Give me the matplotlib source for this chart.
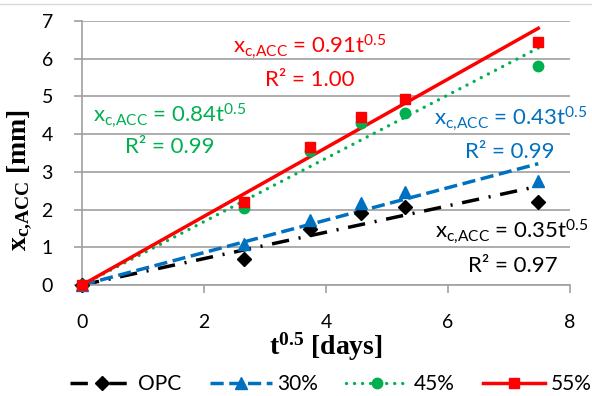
import numpy as np
import matplotlib
matplotlib.use("Agg")
import matplotlib.pyplot as plt
from matplotlib.lines import Line2D

plt.rcParams['font.family'] = ['Lato', 'DejaVu Sans']
plt.rcParams['mathtext.default'] = 'regular'

# ---- data ----
t05 = [0, 2.65, 3.74, 4.58, 5.29, 7.48]
series_names = ["OPC", "30%", "45%", "55%"]
opc = [0, 0.70, 1.48, 1.90, 2.08, 2.20]
s30 = [0, 1.08, 1.72, 2.17, 2.47, 2.77]
s45 = [0, 2.05, 3.55, 4.29, 4.55, 5.80]
s55 = [0, 2.20, 3.67, 4.46, 4.93, 6.43]
slopes = [0.35, 0.43, 0.84, 0.91]
r2 = ["0.97", "0.99", "0.99", "1.00"]
xticks = [0, 2, 4, 6, 8]
yticks = [0, 1, 2, 3, 4, 5, 6, 7]

colors = ["black", "#0070C0", "#00B050", "#FF0000"]
markers = ["D", "^", "o", "s"]
msizes = [7, 8.5, 7.5, 7.5]
dashes = [(5.0, 2.8, 0.6, 2.8), (3.8, 1.6), (0.01, 2.4), None]
lws = [2.5, 2.5, 2.4, 2.5]

fig = plt.figure(figsize=(5.92, 3.96), dpi=100)
ax = fig.add_axes([82/592, 1-285/396, (570-82)/592, (285-21)/396])

xfit = np.array([0, max(t05)])
handles = []
for ys, c, m, ms, d, lw, k, name in zip([opc, s30, s45, s55], colors, markers,
                                         msizes, dashes, lws, slopes, series_names):
    ax.plot(t05, ys, linestyle='none', marker=m, ms=ms, color=c, zorder=3, clip_on=False)
    ln, = ax.plot(xfit, k * xfit, color=c, lw=lw, zorder=2,
                  dash_capstyle='round' if name == "45%" else 'butt')
    if d is not None:
        ln.set_dashes(d)
    h = Line2D([], [], color=c, lw=lw, marker=m, ms=ms)
    if d is not None:
        h.set_dashes(d)
        if name == "45%":
            h.set_dash_capstyle('round')
    handles.append(h)

ax.set_xlim(0, 8)
ax.set_ylim(0, 7)
ax.set_xticks(xticks)
ax.set_yticks(yticks)
ax.yaxis.grid(True, color='#a0a0a0', lw=1.2)
ax.set_axisbelow(True)
for s in ['top', 'right']:
    ax.spines[s].set_visible(False)
for s in ['left', 'bottom']:
    ax.spines[s].set_color('#a0a0a0')
    ax.spines[s].set_linewidth(1.2)
ax.tick_params(axis='both', direction='out', length=6, width=1.2, color='#a0a0a0',
               labelsize=14, pad=15)

serif = dict(family='Liberation Serif', weight='bold', size=20)
ax.set_xlabel('t$^{0.5}$ [days]', fontdict=serif)
ax.xaxis.set_label_coords(0.5, (285-347)/264)
ax.xaxis.label.set_va('center')
ax.set_ylabel('x$_{c{,}ACC}$ [mm]', fontdict=serif)
ax.yaxis.set_label_coords((20-82)/488, (285-180)/264)
ax.yaxis.label.set_va('center')

# equation annotations (x center, baseline) in data coords
eq_pos = [(7.05, 1.25), (7.02, 4.24), (1.43, 4.32), (3.74, 6.15)]
r2_pos = [(7.06, 0.34), (7.02, 3.37), (1.44, 3.50), (3.74, 5.28)]
for c, k, r, (ex, ey), (rx, ry) in zip(colors, slopes, r2, eq_pos, r2_pos):
    ax.text(ex, ey, 'x$_{c{,}ACC}$ = %.2ft$^{0.5}$' % k, color=c, fontsize=16,
            ha='center', va='baseline')
    ax.text(rx, ry, 'R² = ' + r, color=c, fontsize=16, ha='center', va='baseline')

fig.legend(handles, series_names, loc='center', bbox_to_anchor=(331/592, 1-384/396),
           ncol=4, frameon=False, fontsize=15, handlelength=3.0, handletextpad=0.25,
           columnspacing=1.35)

fig.add_artist(Line2D([0, 1], [1-4/396, 1-4/396], transform=fig.transFigure,
                      color='#d9d9d9', lw=1))

fig.savefig('out.png', dpi=100)
